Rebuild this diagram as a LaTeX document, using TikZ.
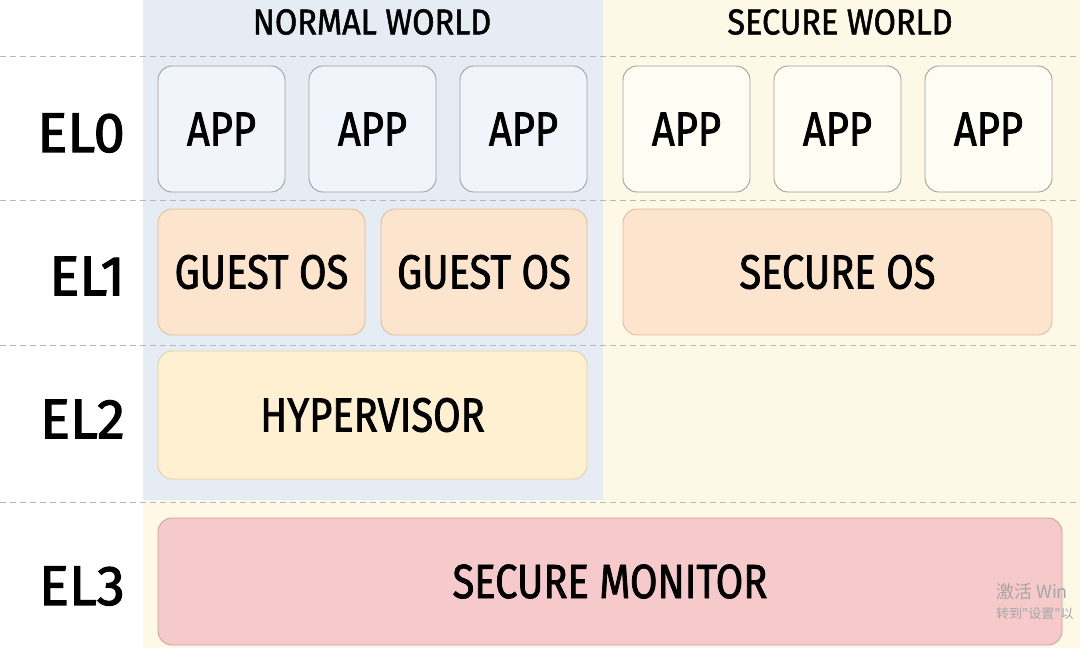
\documentclass[tikz,border=0pt]{standalone}
\usepackage{fontspec}
\newfontfamily\hand[FakeStretch=0.83,FakeBold=1.6]{Fira Sans}
\newfontfamily\handt[FakeStretch=0.9,FakeBold=1.4]{Fira Sans}
\newfontfamily\hande[FakeStretch=1.0,FakeBold=2]{Fira Sans}
\newfontfamily\cjk{Noto Sans CJK SC}
\definecolor{nbg}{HTML}{E5ECF4}
\definecolor{sbg}{HTML}{FEF8E7}
\definecolor{appn}{HTML}{F1F4FB}
\definecolor{apps}{HTML}{FFFCF3}
\definecolor{appline}{HTML}{A0A0A0}
\definecolor{osfill}{HTML}{FDE4CC}
\definecolor{osline}{HTML}{DDBF9C}
\definecolor{hypfill}{HTML}{FEF0D0}
\definecolor{hypline}{HTML}{E3CFA3}
\definecolor{monfill}{HTML}{F6CACA}
\definecolor{monline}{HTML}{CF9F9F}
\definecolor{dashc}{HTML}{B5B8BC}
\tikzset{
  blk/.style={rounded corners=14pt, line width=0.9pt, inner sep=0pt, font=\hand\fontsize{48}{50}\selectfont, text=black},
  appN/.style={blk, draw=appline, fill=appn, minimum width=127pt, minimum height=126pt},
  appS/.style={blk, draw=appline, fill=apps, minimum width=127pt, minimum height=126pt},
  osbox/.style={blk, draw=osline, fill=osfill, minimum height=126pt},
  hypbox/.style={blk, draw=hypline, fill=hypfill, minimum height=128pt},
  monbox/.style={blk, draw=monline, fill=monfill, minimum height=127pt},
  ellab/.style={anchor=east, inner sep=0pt, font=\hande\fontsize{56}{58}\selectfont},
  worldlab/.style={inner sep=0pt, font=\handt\fontsize{36}{38}\selectfont},
  sep/.style={draw=dashc, line width=0.9pt, dash pattern=on 6pt off 4pt},
  wmark/.style={anchor=west, inner sep=0pt, text=black!35},
}
\begin{document}
\begin{tikzpicture}[x=1pt,y=-1pt]
\useasboundingbox (0,0) rectangle (1080,648);
\begin{scope}
\clip (0,0) rectangle (1080,648);
% backgrounds
\fill[white] (0,0) rectangle (1080,648);
\fill[sbg] (143,0) rectangle (1080,648);
\fill[nbg] (143,0) rectangle (603,500);
% separators
\coordinate (l1) at (0,56);   \coordinate (r1) at (1080,56);
\coordinate (l2) at (0,200);  \coordinate (r2) at (1080,200);
\coordinate (l3) at (0,345);  \coordinate (r3) at (1080,345);
\coordinate (l4) at (0,502);  \coordinate (r4) at (1080,502);
\draw[sep] (l1) -- (r1);
\draw[sep] (l2) -- (r2);
\draw[sep] (l3) -- (r3);
\draw[sep] (l4) -- (r4);
% titles
\node[worldlab] (nw) at (372,22) {NORMAL WORLD};
\node[worldlab] (sw) at (840,22) {SECURE WORLD};
% EL labels
\node[ellab] (el0) at (125,133) {EL0};
\node[ellab] (el1) at (125,276) {EL1};
\node[ellab] (el2) at (125,419) {EL2};
\node[ellab] (el3) at (125,586) {EL3};
% EL0 apps
\node[appN] (a1) at (221.5,129) {APP};
\node[appN] (a2) at (372.5,129) {APP};
\node[appN] (a3) at (523.5,129) {APP};
\node[appS] (a4) at (686.5,129) {APP};
\node[appS] (a5) at (837.5,129) {APP};
\node[appS] (a6) at (988.5,129) {APP};
% EL1
\node[osbox, minimum width=207pt] (g1) at (261.5,272) {GUEST OS};
\node[osbox, minimum width=206pt] (g2) at (484,272) {GUEST OS};
\node[osbox, minimum width=429pt] (sos) at (837.5,272) {SECURE OS};
% EL2
\node[hypbox, minimum width=429pt] (hyp) at (372.5,415) {HYPERVISOR};
% EL3
\node[monbox, minimum width=904pt] (mon) at (610,581.5) {SECURE MONITOR};
% watermark
\node[wmark, font=\cjk\fontsize{18}{20}\selectfont] (wm1) at (996,592) {激活 Win};
\node[wmark, font=\cjk\fontsize{13}{15}\selectfont] (wm2) at (996,614) {转到"设置"以};
\end{scope}
\end{tikzpicture}
\end{document}
